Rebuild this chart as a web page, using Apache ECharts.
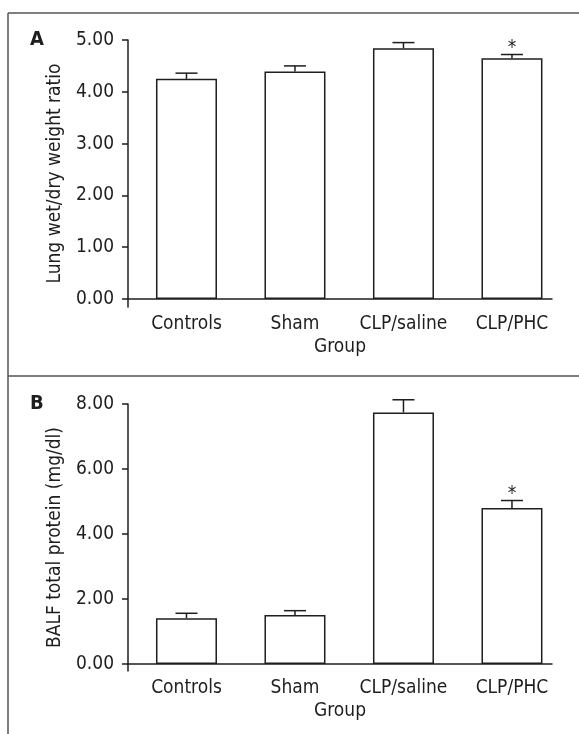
<!DOCTYPE html>
<html>
<head>
<meta charset="utf-8">
<script src="https://cdn.jsdelivr.net/npm/echarts@6/dist/echarts.min.js"></script>
<style>
  html, body { margin: 0; padding: 0; background: #fff; }
  #chart { width: 579px; height: 734px; }
</style>
</head>
<body>
<div id="chart"></div>
<script>
const categories = ['Controls', 'Sham', 'CLP/saline', 'CLP/PHC'];
const ratioMean = [4.25, 4.39, 4.84, 4.65];
const ratioErr = [0.11, 0.11, 0.11, 0.07];
const proteinMean = [1.41, 1.51, 7.74, 4.80];
const proteinErr = [0.15, 0.13, 0.39, 0.23];
const significant = [false, false, false, true];
const ratioTicks = [0, 1, 2, 3, 4, 5];
const proteinTicks = [0, 2, 4, 6, 8];

const FONT = '"DejaVu Sans Condensed", "Liberation Sans Narrow", sans-serif';
const INK = '#1e1e1e';
const FS = 19;

function yAxisFor(grid, ticks, tail, name) {
    return {
        gridIndex: grid,
        type: 'value',
        min: tail,
        max: ticks[ticks.length - 1],
        name: name,
        nameLocation: 'middle',
        nameGap: 58,
        nameTextStyle: { fontFamily: FONT, fontSize: FS, color: INK },
        axisLine: { show: true, onZero: false, lineStyle: { color: INK, width: 1.5 } },
        axisTick: { show: true, length: 6, customValues: ticks, lineStyle: { color: INK, width: 1.5 } },
        axisLabel: {
            customValues: ticks,
            margin: 14,
            fontFamily: FONT, fontSize: FS, color: INK,
            formatter: v => v.toFixed(2)
        },
        splitLine: { show: false }
    };
}

function xAxisFor(grid) {
    return {
        gridIndex: grid,
        type: 'value',
        min: -0.539,
        max: 3.369,
        name: 'Group',
        nameLocation: 'middle',
        nameGap: 31,
        nameTextStyle: { fontFamily: FONT, fontSize: FS, color: INK },
        axisLine: { show: true, onZero: true, lineStyle: { color: INK, width: 1.5 } },
        axisTick: { show: false },
        axisLabel: {
            customValues: [0, 1, 2, 3],
            margin: 8,
            fontFamily: FONT, fontSize: FS, color: INK,
            formatter: v => categories[Math.round(v)] || ''
        },
        splitLine: { show: false }
    };
}

function barSeries(idx, means) {
    return {
        type: 'bar',
        xAxisIndex: idx, yAxisIndex: idx,
        barWidth: 61,
        data: means.map((v, i) => [i, v]),
        itemStyle: { color: '#fff', borderColor: INK, borderWidth: 1.5 },
        silent: true
    };
}

function errorSeries(idx, means, errs) {
    return {
        type: 'custom',
        xAxisIndex: idx, yAxisIndex: idx,
        data: means.map((v, i) => [i, v, errs[i], significant[i] ? 1 : 0]),
        renderItem: (params, api) => {
            const i = api.value(0);
            const base = api.coord([i, api.value(1)]);
            const top = api.coord([i, api.value(1) + api.value(2)]);
            const style = { stroke: INK, lineWidth: 1.5 };
            const children = [
                { type: 'line', shape: { x1: base[0], y1: base[1], x2: top[0], y2: top[1] }, style },
                { type: 'line', shape: { x1: top[0] - 11, y1: top[1], x2: top[0] + 11, y2: top[1] }, style }
            ];
            if (api.value(3)) {
                children.push({
                    type: 'text',
                    style: {
                        text: '*', x: top[0], y: top[1] + 3,
                        align: 'center', verticalAlign: 'bottom',
                        font: '19px ' + FONT, fill: INK
                    }
                });
            }
            return { type: 'group', children };
        },
        z: 5
    };
}

const panelLine = { stroke: '#555', lineWidth: 1.5 };

echarts.init(document.getElementById('chart')).setOption({
    backgroundColor: '#fff',
    animation: false,
    grid: [
        { left: 128, width: 424, top: 40, height: 267 },
        { left: 128, width: 424, top: 404, height: 267 }
    ],
    xAxis: [xAxisFor(0), xAxisFor(1)],
    yAxis: [
        yAxisFor(0, ratioTicks, -0.154, 'Lung wet/dry weight ratio'),
        yAxisFor(1, proteinTicks, -0.216, 'BALF total protein (mg/dl)')
    ],
    series: [
        barSeries(0, ratioMean),
        errorSeries(0, ratioMean, ratioErr),
        barSeries(1, proteinMean),
        errorSeries(1, proteinMean, proteinErr)
    ],
    graphic: [
        { type: 'line', shape: { x1: 8, y1: 13, x2: 579, y2: 13 }, style: panelLine },
        { type: 'line', shape: { x1: 8, y1: 13, x2: 8, y2: 734 }, style: panelLine },
        { type: 'line', shape: { x1: 8, y1: 376, x2: 579, y2: 376 }, style: panelLine },
        { type: 'text', left: 30, top: 30, style: { text: 'A', font: 'bold 20px ' + FONT, fill: INK } },
        { type: 'text', left: 30, top: 394, style: { text: 'B', font: 'bold 20px ' + FONT, fill: INK } }
    ]
});
</script>
</body>
</html>
